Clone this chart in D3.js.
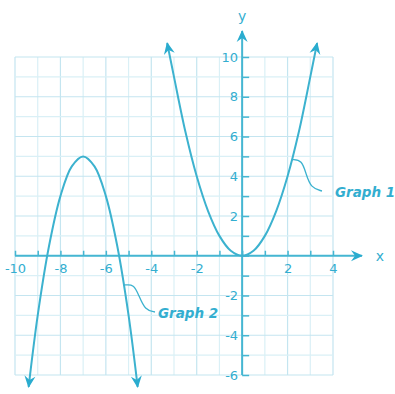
<!DOCTYPE html>
<html lang="en">
<head>
<meta charset="UTF-8">
<script src="https://cdn.jsdelivr.net/npm/d3@7"></script>
<title>Graph 1 and Graph 2</title>
<style>
    body { margin: 0; background: #fff; }
    svg { display: block; }
    .lbl { font-family: "DejaVu Sans", sans-serif; fill: #33aed0; }
    .axis text { font-family: "DejaVu Sans", sans-serif; font-size: 13px; fill: #33aed0; }
</style>
</head>
<body>
<svg width="395" height="394"></svg>
<script>
    // values
    const xTicks = [-10, -8, -6, -4, -2, 2, 4];
    const yTicks = [10, 8, 6, 4, 2, -2, -4, -6];

    const graph1 = [[-3.3, 10.7], [-3, 9], [-2.5, 6.25], [-2, 4], [-1.5, 2.25], [-1, 1], [-0.5, 0.25], [0, 0],
                    [0.5, 0.25], [1, 1], [1.5, 2.25], [2, 4], [2.5, 6.25], [3, 9], [3.3, 10.7]];
    const graph2 = [[-9.4, -6.6], [-9, -3], [-8.5, 0.5], [-8, 3], [-7.5, 4.5], [-7, 5],
                    [-6.5, 4.5], [-6, 3], [-5.5, 0.5], [-5, -3], [-4.6, -6.6]];

    const svg = d3.select("svg");
    const x = d3.scaleLinear().domain([-10, 4]).range([15, 333]);
    const y = d3.scaleLinear().domain([-6, 10]).range([375, 57]);

    const blue = "#3cb2cf";

    svg.append("defs").append("marker")
        .attr("id", "arrow")
        .attr("viewBox", "-12 -6 14 12")
        .attr("refX", 0).attr("refY", 0)
        .attr("markerWidth", 14).attr("markerHeight", 12)
        .attr("markerUnits", "userSpaceOnUse")
        .attr("orient", "auto-start-reverse")
      .append("path")
        .attr("d", "M1,0 L-11,-5.5 L-7,0 L-11,5.5 Z")
        .attr("fill", "#2aaccf");

    // grid
    const grid = svg.append("g");
    grid.selectAll(".gx")
        .data(d3.range(-10, 5))
        .join("line")
          .attr("x1", d => x(d)).attr("x2", d => x(d))
          .attr("y1", y(10)).attr("y2", y(-6))
          .attr("stroke", d => d % 2 === 0 ? "#c4e5f0" : "#daf0f6")
          .attr("stroke-width", 1.2);
    grid.selectAll(".gy")
        .data(d3.range(-6, 11))
        .join("line")
          .attr("y1", d => y(d)).attr("y2", d => y(d))
          .attr("x1", x(-10)).attr("x2", x(4))
          .attr("stroke", d => d % 2 === 0 ? "#c4e5f0" : "#daf0f6")
          .attr("stroke-width", 1.2);

    // axes
    const xAxis = d3.axisBottom(x)
        .tickValues(d3.range(-10, 5))
        .tickSizeInner(-5).tickSizeOuter(0).tickPadding(8)
        .tickFormat(d => xTicks.includes(d) ? d : "");
    const gx = svg.append("g").attr("class", "axis")
        .attr("transform", `translate(0,${y(0)})`)
        .call(xAxis);
    gx.select(".domain").remove();
    gx.selectAll("line").attr("stroke", "#45b6d2").attr("stroke-width", 1.5);

    const yAxis = d3.axisLeft(y)
        .tickValues(d3.range(-6, 11))
        .tickSizeInner(-7).tickSizeOuter(0).tickPadding(4)
        .tickFormat(d => yTicks.includes(d) ? d : "");
    const gy = svg.append("g").attr("class", "axis")
        .attr("transform", `translate(${x(0)},0)`)
        .call(yAxis);
    gy.select(".domain").remove();
    gy.selectAll("line").attr("stroke", "#45b6d2").attr("stroke-width", 1.5);

    svg.append("line")
        .attr("x1", x(-10)).attr("x2", 362)
        .attr("y1", y(0)).attr("y2", y(0))
        .attr("stroke", "#45b6d2").attr("stroke-width", 2)
        .attr("marker-end", "url(#arrow)");
    svg.append("line")
        .attr("x1", x(0)).attr("x2", x(0))
        .attr("y1", y(-6)).attr("y2", 31)
        .attr("stroke", "#45b6d2").attr("stroke-width", 2)
        .attr("marker-end", "url(#arrow)");

    svg.append("text").attr("class", "lbl")
        .attr("x", 380).attr("y", y(0) + 5)
        .attr("text-anchor", "middle").attr("font-size", 14)
        .text("x");
    svg.append("text").attr("class", "lbl")
        .attr("x", x(0)).attr("y", 21)
        .attr("text-anchor", "middle").attr("font-size", 14)
        .text("y");

    // curves, arrowheads at both ends
    const line = d3.line()
        .x(d => x(d[0])).y(d => y(d[1]))
        .curve(d3.curveCatmullRom.alpha(0.5));

    [graph1, graph2].forEach(pts => {
        svg.append("path")
            .attr("d", line(pts))
            .attr("fill", "none").attr("stroke", blue).attr("stroke-width", 2)
            .attr("marker-start", "url(#arrow)")
            .attr("marker-end", "url(#arrow)");
    });

    // labels with wavy leaders
    const leader = d3.line().curve(d3.curveBasis);
    svg.append("path")
        .attr("d", leader([[x(2.2), y(4.84)], [302, 160], [306, 174], [311, 188], [322, 191]]))
        .attr("fill", "none").attr("stroke", blue).attr("stroke-width", 1.3);
    svg.append("text").attr("class", "lbl")
        .attr("x", 335).attr("y", 197)
        .attr("font-size", 13.5).attr("font-style", "italic").attr("font-weight", "bold")
        .text("Graph 1");

    svg.append("path")
        .attr("d", leader([[x(-5.2), y(-1.48)], [134, 284], [139, 296], [145, 310], [155, 312]]))
        .attr("fill", "none").attr("stroke", blue).attr("stroke-width", 1.3);
    svg.append("text").attr("class", "lbl")
        .attr("x", 158).attr("y", 318)
        .attr("font-size", 13.5).attr("font-style", "italic").attr("font-weight", "bold")
        .text("Graph 2");
</script>
</body>
</html>
